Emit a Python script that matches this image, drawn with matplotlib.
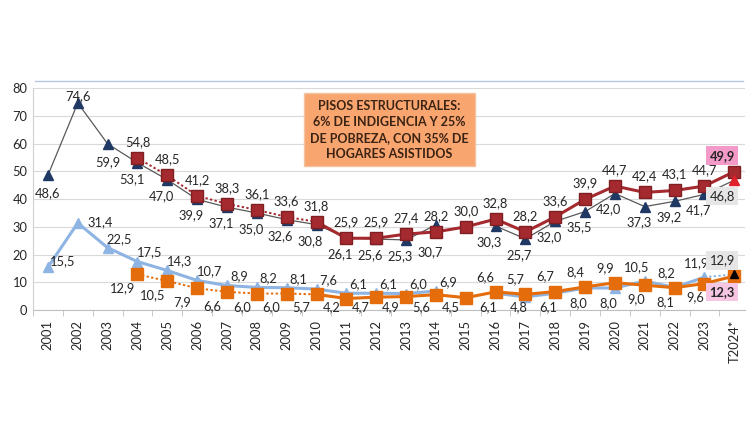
import numpy as np
import matplotlib
matplotlib.use("Agg")
import matplotlib.pyplot as plt
from matplotlib.lines import Line2D

plt.rcParams["font.family"] = ["Lato", "DejaVu Sans"]

years = ["2001", "2002", "2003", "2004", "2005", "2006", "2007", "2008", "2009",
         "2010", "2011", "2012", "2013", "2014", "2015", "2016", "2017", "2018",
         "2019", "2020", "2021", "2022", "2023", "T2024*"]

nan = np.nan
# pobreza, serie empalmada (triangulos azul oscuro)
pobreza_vieja = [48.6, 74.6, 59.9, 53.1, 47.0, 39.9, 37.1, 35.0, 32.6, 30.8, 26.1, 25.6,
                 25.3, 30.7, nan, 30.3, 25.7, 32.0, 35.5, 42.0, 37.3, 39.2, 41.7, 46.8]
# pobreza, serie nueva (cuadrados rojos)
pobreza_nueva = [nan, nan, nan, 54.8, 48.5, 41.2, 38.3, 36.1, 33.6, 31.8, 25.9, 25.9,
                 27.4, 28.2, 30.0, 32.8, 28.2, 33.6, 39.9, 44.7, 42.4, 43.1, 44.7, 49.9]
# indigencia, serie empalmada (triangulos celestes)
indigencia_vieja = [15.5, 31.4, 22.5, 17.5, 14.3, 10.7, 8.9, 8.2, 8.1, 7.6, 6.1, 6.1,
                    6.0, 6.9, nan, 6.1, 4.8, 6.1, 8.0, 8.0, 10.5, 8.2, 11.9, 12.9]
# indigencia, serie nueva (cuadrados naranjas)
indigencia_nueva = [nan, nan, nan, 12.9, 10.5, 7.9, 6.6, 6.0, 6.0, 5.7, 4.2, 4.7,
                    4.9, 5.6, 4.5, 6.6, 5.7, 6.7, 8.4, 9.9, 9.0, 8.1, 9.6, 12.3]

box_text = "PISOS ESTRUCTURALES:\n6% DE INDIGENCIA Y 25%\nDE POBREZA, CON 35% DE\nHOGARES ASISTIDOS"

NAVY = "#1F3864"
RED = "#A52A2F"
LBLUE = "#8EB4E3"
ORANGE = "#E46C0A"
FS = 9.3

# pixeles por unidad de datos (para ubicar etiquetas como en Excel)
PX_Y = 222 / 80
PX_X = 29.87


def fmt(v):
    return f"{v:.1f}".replace(".", ",")


def label(ax, i, v, dy, dx=0, **kw):
    # dy, dx en pixeles; la etiqueta no baja del eje (como en Excel)
    y = max(v + dy / PX_Y, 1.25)
    ax.text(i + dx / PX_X, y, fmt(v), ha="center", va="center",
            fontsize=FS, color="#262626", zorder=7, **kw)


fig = plt.figure(figsize=(7.5, 4.4), dpi=100)
ax = fig.add_axes([0.044, 0.295, 0.949, 0.505])
x = np.arange(len(years))
last = len(years) - 1

pv = np.array(pobreza_vieja)
pn = np.array(pobreza_nueva)
iv = np.array(indigencia_vieja)
inn = np.array(indigencia_nueva)

# lineas
ax.plot(x, pv, color="#595959", lw=0.9, zorder=2)
ax.plot(x[3:10], pn[3:10], color=RED, lw=1.4, ls=(0, (1.2, 1.2)), zorder=3)
ax.plot(x[9:], pn[9:], color=RED, lw=2.2, zorder=3)
ax.plot(x[:last], iv[:last], color=LBLUE, lw=2.2, zorder=2)
ax.plot(x[last - 1:], iv[last - 1:], color=LBLUE, lw=1.4, ls=(0, (1.2, 1.2)), zorder=2)
ax.plot(x[3:10], inn[3:10], color=ORANGE, lw=1.4, ls=(0, (1.2, 1.2)), zorder=3)
ax.plot(x[9:], inn[9:], color=ORANGE, lw=2.2, zorder=3)

# marcadores
ax.plot(x[:last], pv[:last], ls="none", marker="^", ms=7, color=NAVY, zorder=4)
ax.plot(x[last], pv[last], ls="none", marker="^", ms=7, color="#E0202A", zorder=5)
ax.plot(x, pn, ls="none", marker="s", ms=8, color=RED, mec="#7F1F22", zorder=4)
ax.plot(x[:last], iv[:last], ls="none", marker="^", ms=7, color=LBLUE, zorder=4)
ax.plot(x, inn, ls="none", marker="s", ms=8, color=ORANGE, zorder=4)
ax.plot(x[last], iv[last], ls="none", marker="^", ms=6, color="black", zorder=6)

# etiquetas de datos
for i in range(last):
    if not np.isnan(pv[i]):
        if i == 1:
            label(ax, i, pv[i], 7)
        elif i in (0, 2):
            label(ax, i, pv[i], -18)
        elif i == 13:
            label(ax, i, pv[i], -27, -6)
        else:
            label(ax, i, pv[i], -16, -6)
    if not np.isnan(pn[i]):
        label(ax, i, pn[i], 16)
    if not np.isnan(iv[i]):
        other = inn[i]
        if i == 0:
            label(ax, i, iv[i], 6, 15)
        elif i == 1:
            label(ax, i, iv[i], 1, 22)
        elif i < 15:
            label(ax, i, iv[i], 9, 12)
        elif iv[i] >= other:
            label(ax, i, iv[i], 14, -8)
        else:
            label(ax, i, iv[i], -15, -7)
    if not np.isnan(inn[i]):
        if i < 15:
            label(ax, i, inn[i], -14, -15)
        elif iv[i] >= inn[i]:
            label(ax, i, inn[i], -14, -9)
        else:
            label(ax, i, inn[i], 15, -10)

label(ax, last, pn[last], 16, -12, fontweight="bold",
      bbox=dict(boxstyle="square,pad=0.25", fc="#F49AC8", ec="none"))
label(ax, last, pv[last], -16, -12,
      bbox=dict(boxstyle="square,pad=0.25", fc="#E6E6E6", ec="none"))
label(ax, last, iv[last], 14, -12,
      bbox=dict(boxstyle="square,pad=0.25", fc="#E6E6E6", ec="none"))
label(ax, last, inn[last], -16, -12, fontweight="bold",
      bbox=dict(boxstyle="square,pad=0.25", fc="#F7C6E2", ec="none"))

# cuadro de texto
ax.text(11.45, 65.0, box_text, ha="center", va="center", fontsize=9.0,
        fontweight="bold", color="#3B2314", linespacing=1.4, zorder=8,
        bbox=dict(boxstyle="square,pad=0.5", fc="#F9A56F", ec="#F3C39F", lw=1))

# ejes
ax.set_ylim(0, 80)
ax.set_xlim(-0.5, 23.35)
ax.set_yticks(range(0, 81, 10))
ax.set_xticks(x)
ax.set_xticklabels(years, rotation=90, fontsize=FS, color="#262626")
ax.set_xticks(np.arange(-0.5, 23.5, 1), minor=True)
ax.tick_params(axis="x", which="major", length=0, pad=7)
ax.tick_params(axis="x", which="minor", length=4, color="#BFBFBF")
ax.tick_params(axis="y", length=0, labelsize=FS, labelcolor="#262626", pad=4)
ax.grid(axis="y", color="#D9D9D9", lw=0.8)
ax.set_axisbelow(True)
for s in ["top", "right"]:
    ax.spines[s].set_visible(False)
ax.spines["left"].set_color("#D0D0D0")
ax.spines["bottom"].set_color("#BFBFBF")

fig.add_artist(Line2D([0.047, 0.99], [0.815, 0.815], color="#B4C7E7", lw=1.0))

fig.savefig("out.png", dpi=100)
